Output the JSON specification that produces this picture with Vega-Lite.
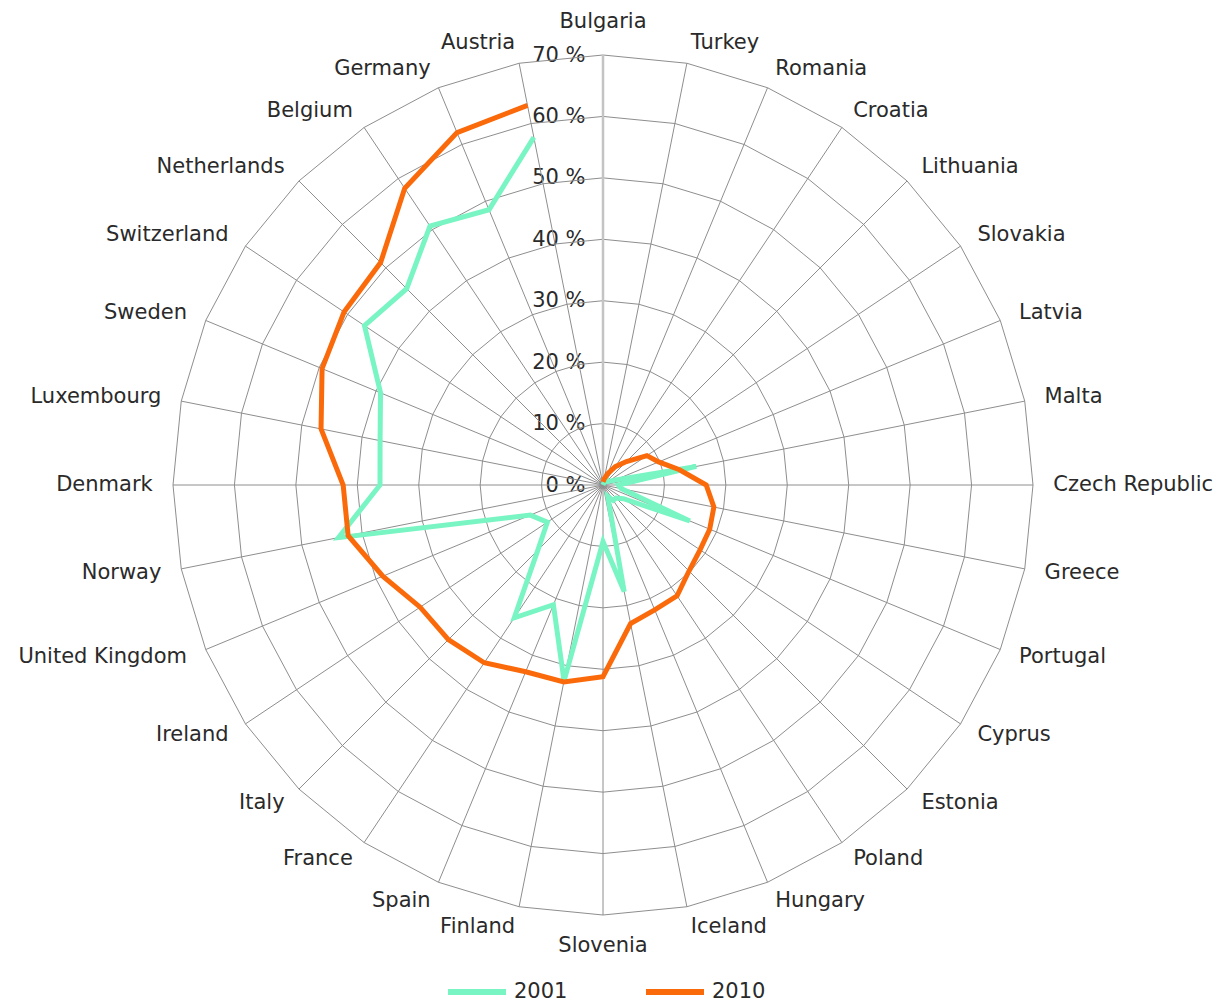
{
  "$schema": "https://vega.github.io/schema/vega-lite/v6.json",
  "width": 860,
  "height": 860,
  "autosize": {"type": "none"},
  "padding": {"left": 173, "top": 55, "right": 190, "bottom": 89},
  "background": "white",
  "config": {"view": {"stroke": null}, "font": "DejaVu Sans"},
  "data": {
    "values": [
      {"country": "Bulgaria", "2001": 0, "2010": 0.5},
      {"country": "Turkey", "2001": 0, "2010": 1},
      {"country": "Romania", "2001": 0.5, "2010": 2},
      {"country": "Croatia", "2001": 0.5, "2010": 3.6},
      {"country": "Lithuania", "2001": 1, "2010": 5.4},
      {"country": "Slovakia", "2001": 1, "2010": 8.6},
      {"country": "Latvia", "2001": 2, "2010": 9.8},
      {"country": "Malta", "2001": 15.5, "2010": 12.7},
      {"country": "Czech Republic", "2001": 2.5, "2010": 16.8},
      {"country": "Greece", "2001": 3, "2010": 18.4},
      {"country": "Portugal", "2001": 15.3, "2010": 18.8},
      {"country": "Cyprus", "2001": 4, "2010": 19},
      {"country": "Estonia", "2001": 3, "2010": 19.8},
      {"country": "Poland", "2001": 3, "2010": 21.7},
      {"country": "Hungary", "2001": 2, "2010": 22},
      {"country": "Iceland", "2001": 17.7, "2010": 23},
      {"country": "Slovenia", "2001": 9.2, "2010": 31.2},
      {"country": "Finland", "2001": 32.5, "2010": 32.7},
      {"country": "Spain", "2001": 21.1, "2010": 32.9},
      {"country": "France", "2001": 26, "2010": 34.8},
      {"country": "Italy", "2001": 15, "2010": 35.6},
      {"country": "Ireland", "2001": 10.9, "2010": 35.8},
      {"country": "United Kingdom", "2001": 12.8, "2010": 38.8},
      {"country": "Norway", "2001": 43.9, "2010": 42.3},
      {"country": "Denmark", "2001": 36.3, "2010": 42.3},
      {"country": "Luxembourg", "2001": 37, "2010": 46.8},
      {"country": "Sweden", "2001": 39.2, "2010": 49.5},
      {"country": "Switzerland", "2001": 46.7, "2010": 50.7},
      {"country": "Netherlands", "2001": 45.2, "2010": 51.2},
      {"country": "Belgium", "2001": 50.7, "2010": 58.1},
      {"country": "Germany", "2001": 48.5, "2010": 62.1},
      {"country": "Austria", "2001": 57.7, "2010": 63}
    ]
  },
  "transform": [
    {"window": [{"op": "row_number", "as": "rn"}]},
    {"calculate": "(datum.rn - 1) * 2 * PI / 32", "as": "ang"}
  ],
  "encoding": {
    "x": {"field": "px", "type": "quantitative", "scale": {"domain": [-70, 70], "nice": false, "zero": false}, "axis": null},
    "y": {
      "field": "py", "type": "quantitative",
      "scale": {"domain": [-70, 70], "nice": false, "zero": false},
      "axis": {
        "orient": "left", "offset": -430, "values": [0, 10, 20, 30, 40, 50, 60, 70],
        "labelExpr": "datum.value + ' %'", "ticks": false, "domain": false, "grid": false,
        "labelPadding": 18, "labelFontSize": 21, "labelColor": "#2a2a2a", "labelFont": "DejaVu Sans",
        "title": null, "labelBaseline": "middle", "labelOverlap": false
      }
    }
  },
  "layer": [
    {
      "transform": [
        {"calculate": "[10,20,30,40,50,60,70]", "as": "lv"},
        {"flatten": ["lv"]},
        {"calculate": "datum.lv * sin(datum.ang)", "as": "px"},
        {"calculate": "datum.lv * cos(datum.ang)", "as": "py"}
      ],
      "mark": {"type": "line", "interpolate": "linear-closed", "color": "#8e8e8e", "strokeWidth": 1},
      "encoding": {
        "detail": {"field": "lv", "type": "nominal"},
        "order": {"field": "rn", "type": "quantitative"}
      }
    },
    {
      "transform": [
        {"calculate": "70 * sin(datum.ang)", "as": "ex"},
        {"calculate": "70 * cos(datum.ang)", "as": "ey"},
        {"calculate": "0", "as": "px"},
        {"calculate": "0", "as": "py"}
      ],
      "mark": {"type": "rule"},
      "encoding": {
        "x2": {"field": "ex"},
        "y2": {"field": "ey"},
        "color": {"condition": {"test": "datum.rn == 1", "value": "#c4c4c4"}, "value": "#8e8e8e"},
        "strokeWidth": {"condition": {"test": "datum.rn == 1", "value": 2.5}, "value": 1}
      }
    },
    {
      "transform": [
        {"fold": ["2001", "2010"], "as": ["year", "val"]},
        {"calculate": "datum.val * sin(datum.ang)", "as": "px"},
        {"calculate": "datum.val * cos(datum.ang)", "as": "py"}
      ],
      "mark": {"type": "line", "strokeWidth": 5},
      "encoding": {
        "color": {
          "field": "year", "type": "nominal",
          "scale": {"domain": ["2001", "2010"], "range": ["#78f5c3", "#fa6a0a"]},
          "legend": {
            "title": null, "orient": "none", "legendX": 272, "legendY": 905,
            "direction": "horizontal", "symbolType": "stroke", "symbolSize": 3364,
            "symbolStrokeWidth": 6, "labelFontSize": 21, "labelFont": "DejaVu Sans",
            "labelColor": "#2a2a2a", "labelOffset": 5, "columnPadding": 66, "padding": 0
          }
        },
        "order": {"field": "rn", "type": "quantitative"}
      }
    },
    {
      "transform": [
        {"filter": "datum.rn == 1"},
        {"calculate": "0", "as": "px"},
        {"calculate": "73.3", "as": "py"}
      ],
      "mark": {"type": "text", "align": "center", "baseline": "bottom", "dy": -3, "fontSize": 21, "font": "DejaVu Sans", "color": "#2a2a2a"},
      "encoding": {"text": {"field": "country"}}
    },
    {
      "transform": [
        {"filter": "datum.rn == 17"},
        {"calculate": "0", "as": "px"},
        {"calculate": "-73.3", "as": "py"}
      ],
      "mark": {"type": "text", "align": "center", "baseline": "top", "fontSize": 21, "font": "DejaVu Sans", "color": "#2a2a2a"},
      "encoding": {"text": {"field": "country"}}
    },
    {
      "transform": [
        {"filter": "datum.rn > 1 && datum.rn < 17"},
        {"calculate": "73.3 * sin(datum.ang)", "as": "px"},
        {"calculate": "73.3 * cos(datum.ang)", "as": "py"}
      ],
      "mark": {"type": "text", "align": "left", "baseline": "middle", "fontSize": 21, "font": "DejaVu Sans", "color": "#2a2a2a"},
      "encoding": {"text": {"field": "country"}}
    },
    {
      "transform": [
        {"filter": "datum.rn > 17"},
        {"calculate": "73.3 * sin(datum.ang)", "as": "px"},
        {"calculate": "73.3 * cos(datum.ang)", "as": "py"}
      ],
      "mark": {"type": "text", "align": "right", "baseline": "middle", "fontSize": 21, "font": "DejaVu Sans", "color": "#2a2a2a"},
      "encoding": {"text": {"field": "country"}}
    }
  ]
}
